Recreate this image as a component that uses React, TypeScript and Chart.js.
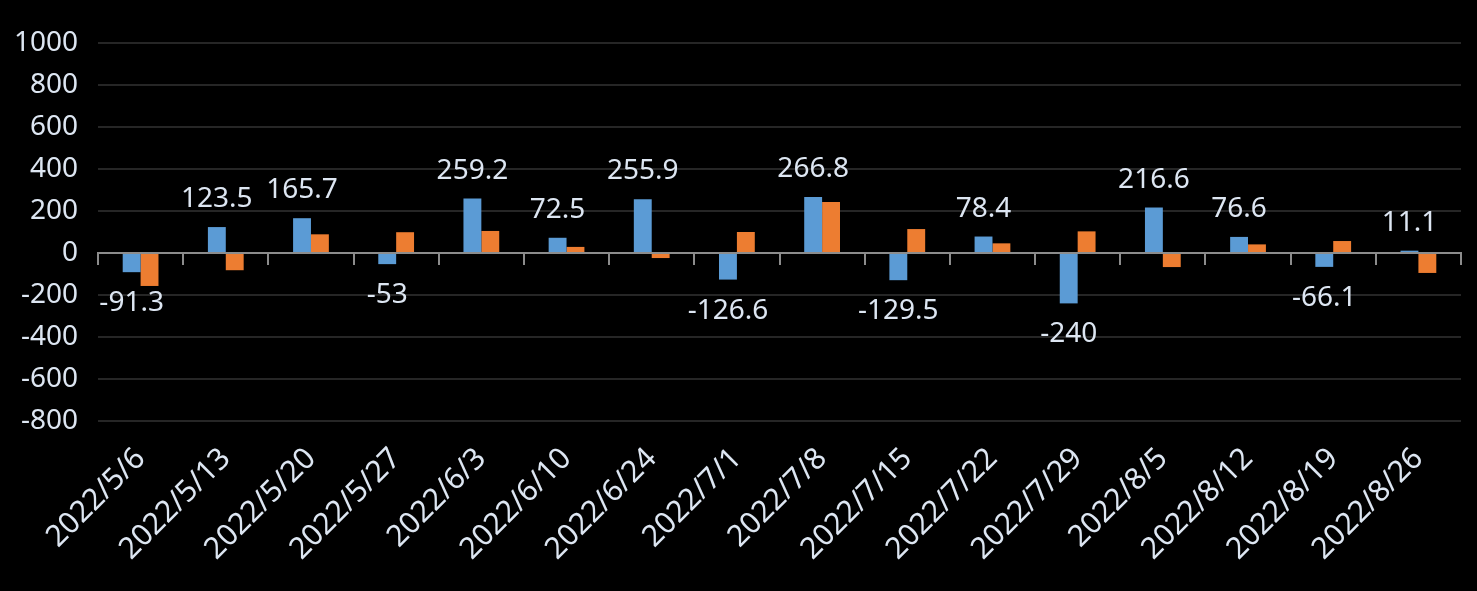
import { useEffect, useRef } from 'react';
import { Chart, registerables } from 'chart.js';
Chart.register(...registerables);

const categories = ['2022/5/6', '2022/5/13', '2022/5/20', '2022/5/27', '2022/6/3', '2022/6/10', '2022/6/24', '2022/7/1', '2022/7/8', '2022/7/15', '2022/7/22', '2022/7/29', '2022/8/5', '2022/8/12', '2022/8/19', '2022/8/26'];
const seriesBlue = [-91.3, 123.5, 165.7, -53, 259.2, 72.5, 255.9, -126.6, 266.8, -129.5, 78.4, -240, 216.6, 76.6, -66.1, 11.1];
const seriesOrange = [-157, -82, 89, 99, 105, 29, -24, 100, 243, 114, 46, 103, -67, 41, 57, -95];
const yMin = -800;
const yMax = 1000;
const yStep = 200;

const TEXT = '#dde6f2';
const FONT_FAMILY = '"Noto Sans", "Open Sans", sans-serif';

const labelPlugin = {
  id: 'blueLabels',
  afterDatasetsDraw(chart: any) {
    const ctx = chart.ctx;
    const meta = chart.getDatasetMeta(0);
    ctx.save();
    ctx.font = `28px ${FONT_FAMILY}`;
    ctx.fillStyle = TEXT;
    ctx.textAlign = 'center';
    ctx.textBaseline = 'alphabetic';
    meta.data.forEach((bar: any, i: number) => {
      const v = seriesBlue[i];
      const y = v >= 0 ? bar.y - 20 : bar.y + 39;
      ctx.fillText(String(v), bar.x, y);
    });
    ctx.restore();
  },
};

export default function App() {
  const ref = useRef<HTMLCanvasElement>(null);
  useEffect(() => {
    document.body.style.margin = '0';
    document.body.style.background = '#000';
    const chart = new Chart(ref.current!, {
      type: 'bar',
      data: {
        labels: categories,
        datasets: [
          { data: seriesBlue, backgroundColor: '#5B9BD5', xAxisID: 'x' },
          { data: seriesOrange, backgroundColor: '#ED7D31', xAxisID: 'x' },
        ],
      },
      options: {
        responsive: false,
        animation: false,
        layout: { padding: { top: 43, right: 16, left: 0, bottom: 0 } },
        plugins: { legend: { display: false }, tooltip: { enabled: false } },
        datasets: { bar: { categoryPercentage: 0.42, barPercentage: 1 } },
        scales: {
          x: {
            position: 'bottom',
            grid: { display: false },
            border: { display: false },
            ticks: {
              color: TEXT,
              font: { family: FONT_FAMILY, size: 30 },
              minRotation: 45,
              maxRotation: 45,
              autoSkip: false,
              padding: 12,
            },
            afterFit(s: any) { s.height = 170; },
          },
          x2: {
            type: 'category',
            labels: categories,
            position: { y: 0 },
            grid: { offset: true, drawOnChartArea: false, color: '#8c8c8c', tickLength: 11, lineWidth: 2 },
            border: { display: true, color: '#8c8c8c', width: 2 },
            ticks: { display: false },
          },
          y: {
            min: yMin,
            max: yMax,
            ticks: {
              stepSize: yStep,
              color: TEXT,
              font: { family: FONT_FAMILY, size: 28 },
              padding: 20,
              callback: (v: any) => String(v),
            },
            grid: { color: '#262626', lineWidth: 2, drawTicks: false },
            border: { display: false },
            afterFit(s: any) { s.width = 98; },
          },
        },
      } as any,
      plugins: [labelPlugin],
    });
    return () => chart.destroy();
  }, []);
  return <canvas ref={ref} width={1477} height={591} style={{ display: 'block' }} />;
}
